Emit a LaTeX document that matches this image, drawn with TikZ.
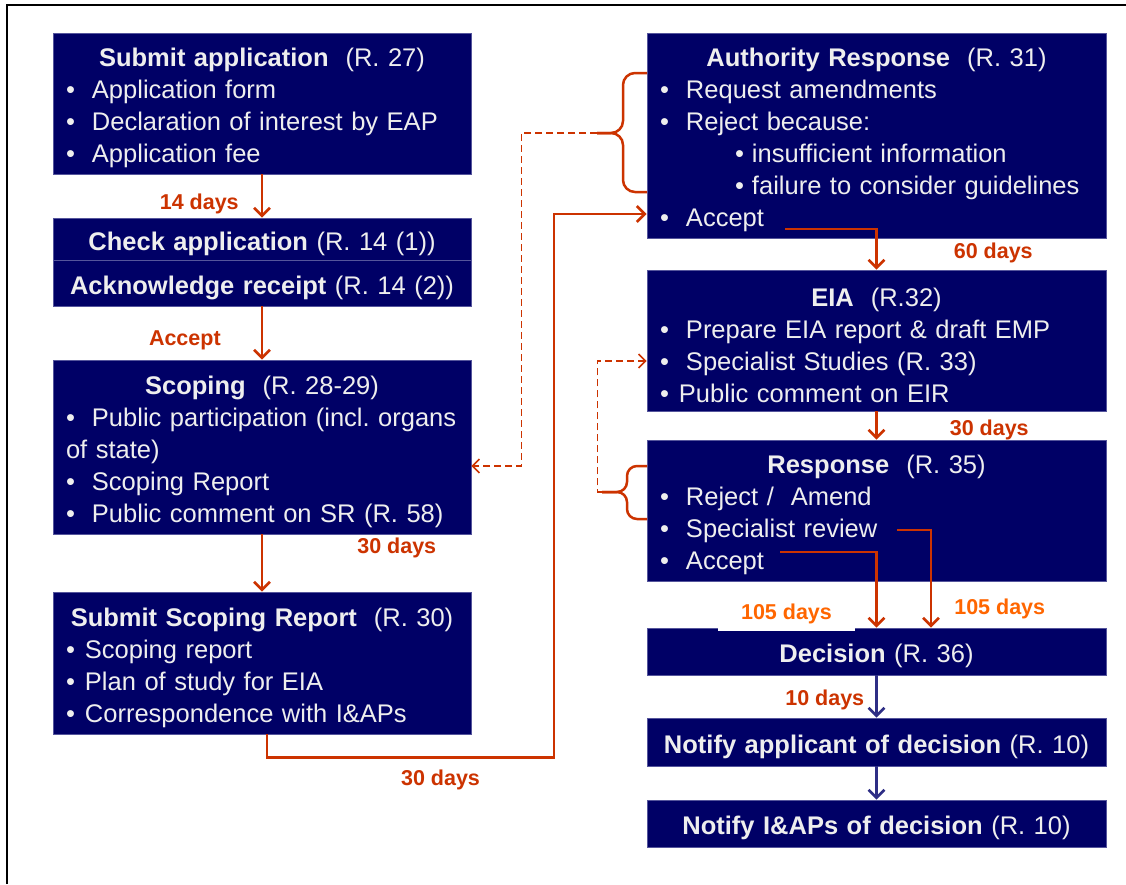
\documentclass[tikz,border=0pt]{standalone}
\usepackage{fontspec}
\setmainfont{Liberation Sans}
\usetikzlibrary{arrows.meta,calc}
\definecolor{boxnavy}{HTML}{000066}
\definecolor{boxedge}{HTML}{55559C}
\definecolor{boxtext}{HTML}{EEEEEE}
\definecolor{flowred}{HTML}{CC3300}
\definecolor{flowamber}{HTML}{FF6600}
\definecolor{flownavy}{HTML}{2E2E85}
\newcommand{\boxhead}[2]{\hspace*{\fill}\textbf{#1}#2\hspace*{\fill}\null}
\newcommand{\bul}{\makebox[26pt][l]{\textbullet}}
\newcommand{\sbul}{\makebox[19pt][l]{\textbullet}}

\begin{document}
\frenchspacing
\begin{tikzpicture}[x=1pt, y=-1pt,
  box/.style={draw=boxedge, line width=0.8pt, fill=boxnavy, text=boxtext, font=\fontsize{25.5}{32}\selectfont, inner xsep=13pt, inner ysep=0pt, align=left, execute at begin node=\rule{0pt}{28pt}},
  lbox/.style={box, text width=392pt},
  rbox/.style={box, text width=433pt},
  flow/.style={-{Straight Barb[length=8pt,width=16pt]}, line width=2.6pt, draw=flowred},
  navyflow/.style={flow, draw=flownavy},
  dashback/.style={-{Straight Barb[length=7pt,width=14pt]}, line width=1.5pt, draw=flowred, dash pattern=on 7pt off 4pt},
  curly/.style={line width=2.5pt, draw=flowred, rounded corners=12pt},
  days/.style={font=\fontsize{21.5}{24}\selectfont\bfseries, text=flowred, inner sep=2pt}
]
\useasboundingbox (0,0) rectangle (1126,884);
\fill[white] (0,0) rectangle (1126,884);
\draw[line width=2.2pt] (7,884) -- (7,5) -- (1126,5);

% Left column
\node[lbox, minimum height=141pt] (submit) at (262,103.5) {\boxhead{Submit application}{\ \ (R. 27)}\\ \bul Application form\\ \bul Declaration of interest by EAP\\ \bul Application fee};
\node[lbox, align=center, minimum height=42pt] (check) at (262,239) {\textbf{Check application} (R. 14 (1))};
\node[lbox, align=center, minimum height=46pt] (ack) at (262,283) {\textbf{Acknowledge receipt} (R. 14 (2))};
\node[lbox, minimum height=174pt] (scoping) at (262,447) {\boxhead{Scoping}{\ \ (R. 28-29)}\\ \bul Public participation (incl. organs\\ of state)\\ \bul Scoping Report\\ \bul Public comment on SR (R. 58)};
\node[lbox, minimum height=142pt] (ssr) at (262,663) {\boxhead{Submit Scoping Report}{\ \ (R. 30)}\\ \sbul Scoping report\\ \sbul Plan of study for EIA\\ \sbul Correspondence with I\&APs};

% Right column
\node[rbox, minimum height=205pt] (authority) at (876.5,135.5) {\boxhead{Authority Response}{\ \ (R. 31)}\\ \bul Request amendments\\ \bul Reject because:\\ \hspace*{75pt}\makebox[17pt][l]{\textbullet}insufficient information\\ \hspace*{75pt}\makebox[17pt][l]{\textbullet}failure to consider guidelines\\ \bul Accept};
\node[rbox, minimum height=141pt] (eia) at (876.5,340.5) {\boxhead{EIA}{\ \ (R.32)}\\ \bul Prepare EIA report \& draft EMP\\ \bul Specialist Studies (R. 33)\\ \sbul Public comment on EIR};
\node[rbox, minimum height=141pt] (response) at (876.5,510.5) {\boxhead{Response}{\ \ (R. 35)}\\ \bul Reject /\ \ Amend\\ \bul Specialist review\\ \bul Accept};
\node[rbox, align=center, minimum height=47pt] (decision) at (876.5,651.5) {\textbf{Decision} (R. 36)};
\node[rbox, align=center, minimum height=48pt] (notifyapp) at (876.5,742) {\textbf{Notify applicant of decision} (R. 10)};
\node[rbox, align=center, minimum height=47pt] (notifyiap) at (876.5,823.5) {\textbf{Notify I\&APs of decision} (R. 10)};

% Main flow
\draw[flow] (submit) -- (check) node[midway, left=20pt, yshift=-8pt, days] (d14) {14 days};
\draw[flow] (ack) -- (scoping) node[midway, left=38pt, yshift=-7pt, days] (dacc) {Accept};
\draw[flow] (scoping) -- (ssr) node[midway, right=92pt, yshift=15pt, days] (d30a) {30 days};
\draw[flow] ([xshift=5pt]ssr.south) -- ++(0,23) -- node[below=9pt, xshift=30pt, days] (d30b) {30 days} ++(287,0) |- ($(authority.west)+(0,78.5)$);

\coordinate (authacc) at (785,229);
\draw[flow] (authacc) -| node[pos=0.75, right=74pt, yshift=-4pt, days] (d60) {60 days} (eia);
\draw[flow] (eia) -- (response) node[midway, right=70pt, yshift=-4pt, days] (d30c) {30 days};
\coordinate (revstart) at (897,530);
\coordinate (accstart) at (780,552);
\draw[flow] (revstart) -| ($(decision.north)+(54.5,0)$) node[pos=0.89, right=20pt, yshift=-3pt, days, text=flowamber] (d105b) {105 days};
\draw[flow] (accstart) -| (decision);
\node[days, text=flowamber, fill=white, minimum width=137pt, minimum height=35pt] (d105a) at (786.5,613.5) {105 days};
\draw[navyflow] (decision) -- (notifyapp) node[midway, left=9pt, yshift=-3pt, days] (d10) {10 days};
\draw[navyflow] (notifyapp) -- (notifyiap);

% Braces and feedback loops
\coordinate (tipa) at (597,133);
\draw[curly] (647,73) -- (623,73) -- (623,133) -- (tipa);
\draw[curly] (647,192) -- (623,192) -- (623,133) -- (tipa);
\draw[dashback] (tipa) -| ($(scoping.east)+(50,19)$) -- ($(scoping.east)+(0,19)$);

\coordinate (tipb) at (602,492);
\draw[curly, rounded corners=10pt] (647,466) -- (627,466) -- (627,492) -- (tipb);
\draw[curly, rounded corners=10pt] (647,519) -- (627,519) -- (627,492) -- (tipb);
\draw[dashback] (tipb) -| ($(eia.west)+(-49,20.5)$) -- ($(eia.west)+(0,20.5)$);
\end{tikzpicture}
\end{document}
